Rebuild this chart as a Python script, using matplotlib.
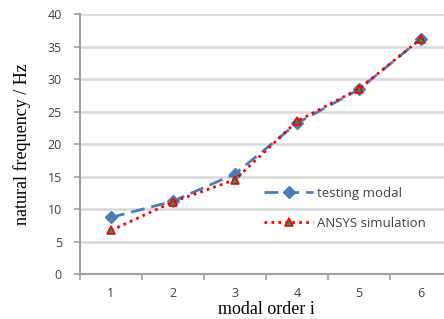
import numpy as np
import matplotlib.pyplot as plt

# modal orders and measured / simulated natural frequencies (Hz)
orders = [1, 2, 3, 4, 5, 6]
testing_modal = [8.7, 11.2, 15.4, 23.2, 28.4, 36.2]
ansys_sim = [6.7, 11.1, 14.5, 23.5, 28.5, 36.2]
y_ticks = [0, 5, 10, 15, 20, 25, 30, 35, 40]

fig = plt.figure(figsize=(4.44, 3.19), dpi=100)
ax = fig.add_axes([0.180, 0.141, 0.838, 0.815])

grid_c = '#d9d9d9'
for yv in y_ticks:
    ax.axhline(yv, color=grid_c, lw=1.8, zorder=0)

ax.plot(orders, testing_modal, color='#4a7ebb', ls=(0, (5, 2.5)), lw=2,
        marker='D', ms=6, mfc='#4a7ebb', mec='#4a7ebb', label='testing modal', zorder=3)
ax.plot(orders, ansys_sim, color='#ff0000', ls=(0, (1, 1.5)), lw=2,
        marker='^', ms=6, mfc='#00a651', mec='#ff0000', mew=1.2,
        label='ANSYS simulation', zorder=4)

ax.set_xlim(0.5, 6.5)
ax.set_ylim(0, 40)
ax.set_yticks(y_ticks)
ax.set_xticks(orders)
ax.set_xticks(np.arange(0.5, 7.0, 1.0), minor=True)
ax.tick_params(axis='x', which='major', length=0, pad=9)
ax.tick_params(axis='x', which='minor', length=4, color='#a0a0a0', width=1.2)
ax.tick_params(axis='y', length=4, color='#a0a0a0', width=1.2, pad=9)
for lab in ax.get_xticklabels() + ax.get_yticklabels():
    lab.set_family('Open Sans')
    lab.set_fontsize(9)
    lab.set_color('#404040')

for s in ['top', 'right']:
    ax.spines[s].set_visible(False)
for s in ['left', 'bottom']:
    ax.spines[s].set_color('#a0a0a0')
    ax.spines[s].set_linewidth(1.5)

ax.set_xlabel('modal order i', family='Liberation Serif', fontsize=13, labelpad=1)
ax.set_ylabel('natural frequency / Hz', family='Liberation Serif', fontsize=13, labelpad=12)

leg = ax.legend(loc='upper left', bbox_to_anchor=(0.495, 0.335), frameon=False,
                handlelength=3.7, handletextpad=0.3, labelspacing=1.3,
                borderaxespad=0, borderpad=0,
                prop={'family': 'Open Sans', 'size': 9.5})
for t in leg.get_texts():
    t.set_color('#404040')

fig.savefig('out.png', dpi=100)
